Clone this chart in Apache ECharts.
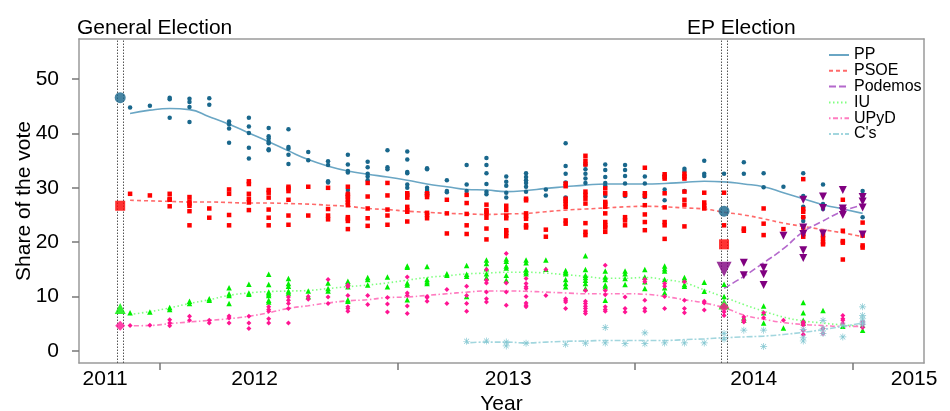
<!DOCTYPE html>
<html><head><meta charset="utf-8">
<script src="https://cdn.jsdelivr.net/npm/echarts@6/dist/echarts.min.js"></script>
<style>html,body{margin:0;padding:0;background:#fff}#c{width:950px;height:411px}</style>
</head><body><div id="c"></div>
<script>
// ---- data (monthly poll columns; position = array index) ----
const parties = ['PP', 'PSOE', 'Podemos', 'IU', 'UPyD', "C's"];

const ppPolls = [[44.8],[45.1],[46.6,46.3,42.9],[46.4,45.8,44.9,42.1],[46.5,45.3],[42.2,41.7,40.9,38.3],
  [42.9,41.3,40.1,37.4,35.4],[41.0,39.5,39.1,38.5,38.2,37.1,36.9],[40.8,37.5,37.2,36.1,34.4],[36.6,35.1],
  [34.9,34.2,31.2,31.0],[36.1,34.3,33.1,32.8,29.6],[34.8,33.8,32.6,32.1,31.4],[36.9,33.8,33.4],
  [36.7,35.2,32.9,32.7,30.6,30.0],[33.6,33.4,30.0,29.6,29.2,28.8],[31.4,29.4,29.2],[34.2,30.6,29.4],
  [35.5,34.2,32.7,30.7,29.3,28.8],[32.1,31.1,30.4,29.1,28.2],[32.7,32.0,31.4,30.9,30.2,29.3],[29.7,28.6],
  [38.2,34.0,32.6,31.0,28.2],[34.3,33.4,32.6,31.7,30.9],[34.3,33.3,32.0,30.9,30.4,28.5],[34.2,33.3,32.2,30.8,28.5],
  [32.1,30.8,28.3],[32.3,29.7,27.7],[33.5,33.1,29.4],[35.0,32.6,32.2],[32.6],[34.7,32.6],[32.7,30.1],[30.2],
  [32.7,28.5,26.5,24.6,23.9],[30.6,27.0,26.1],[26.0,25.3],[29.4,28.4,24.6]];

const psoePolls = [[28.9],[28.6],[28.9,28.0,27.8,26.6],[28.3,27.5,27.1,26.7,25.7,23.1],[26.2,24.5],
  [29.7,28.9,25.0,23.1],[31.2,30.7,28.9,28.0,27.3,25.9],[29.6,29.1,28.2,26.0,24.5,23.1],[30.2,29.9,29.4,27.8,24.9,23.2],
  [30.2,24.9],[30.0,26.1,24.9,24.2],[30.2,28.9,28.6,28.3,27.8,27.3,26.8,24.6,24.3,23.9,22.4],[30.9,28.4,26.2,24.4,23.0],
  [30.9,28.6,26.0,24.9,23.2],[29.0,28.7,28.2,26.5,25.9,25.6,23.8],[29.0,28.7,28.3,25.4,25.0,24.4],[27.8,25.3,21.6],
  [28.7,27.2,25.2,23.1,21.5],[26.9,25.9,25.6,25.2,24.5,22.5,20.5],[26.7,25.9,24.9,24.4,22.2,21.7,21.1],
  [28.0,27.7,25.3,24.8,24.3,23.1,22.7],[22.3,21.0],[30.8,30.3,28.0,27.6,27.1,26.5,24.0,23.4],
  [35.9,35.0,34.3,29.3,28.7,28.0,27.1,23.5,21.9,21.3],[29.9,29.0,27.4,27.1,26.5,25.3,23.7,23.1,22.7,21.9],
  [29.0,28.7,24.6,24.0,23.1],[33.7,29.0,28.5,26.8,25.1,23.7,22.2],[32.5,32.0,31.7,29.0,26.4,23.7,23.1,20.6],
  [32.6,32.1,31.7,29.3,27.8,26.9,22.9],[29.1,27.3,26.7,26.2],[29.1,23.1],[22.5,22.1],[26.2,23.4,21.3],[22.4],
  [31.6,26.1,25.6,24.6,22.7,21.5,21.0],[21.3,20.7,20.0,19.6],[27.8,22.1,20.2,19.9,16.8],[23.6,21.2,19.4,19.0]];

const podemosStart = 30;
const podemosPolls = [[],[16.2,13.9],[15.3,14.1,12.1],[21.2],[27.8,22.7,21.5,18.5,17.1],[28.4,26.3,21.6],
  [29.6,26.2,25.7,25.0],[28.3,27.5,26.4,21.4]];

const iuPolls = [[7.0],[7.15],[7.95,7.6],[9.1,8.7],[9.6,9.3],[11.6,10.5,10.2,8.7],[12.25,10.65,10.4],
  [14.1,12.2,10.8,10.5,10.2,9.3,9.0],[13.3,12.4,11.9,11.0,10.65],[11.0,10.0],[12.5,11.45,11.0],[12.8,12.5,11.8,9.4,9.1],
  [13.5,13.1,12.1],[13.6,11.8],[15.6,15.4,12.5,12.1,9.4],[15.5,13.1,12.7,12.4],[14.2,13.9],[15.7,14.1,13.7,10.0],
  [16.7,16.05,15.1,14.2,13.5],[16.9,16.5,15.6,15.25,13.9,13.0],[16.7,16.2,14.95,14.5,14.2],[16.7,15.0],
  [14.8,14.5,14.2,13.1,12.4,11.8],[17.5,14.95,13.9,13.5,13.0,12.4,11.45],[14.7,13.6,13.1,12.1,11.8,9.3],
  [14.7,14.2,13.3,12.2],[14.95,13.6,12.7,11.45],[15.6,15.1,14.7,13.1,11.6,10.7],[13.5,13.1,12.2,11.9],[12.6,10.95],
  [12.25,10.0],[6.1,5.6],[8.25,7.0,5.1],[4.2],[8.9,7.0,5.6,5.1],[7.4],[4.5],[4.7,3.8]];

const upydPolls = [[4.65],[4.7],[5.7,5.1,4.6],[6.35,5.6],[5.6,5.1],[6.4,6.05,5.1],[6.35,5.1,4.1],
  [8.1,7.6,7.3,5.9,5.1],[9.9,9.3,8.7,7.8,5.1],[10.0,9.5],[13.1,9.9,8.7],[12.1,11.8,10.2,8.1,7.8,7.3],[10.2,8.5],
  [9.8,8.6,7.15],[13.6,10.65,10.2,8.25,6.85],[10.0,9.8,9.1],[11.3,8.7],[11.9,10.2,8.7,7.3],[14.95,13.0,12.5,10.8,9.6,9.0],
  [17.9,12.5,10.8,8.4],[13.3,12.4,11.8,11.45,10.0,8.8,8.4,8.1],[14.95,10.2],[9.6,9.3,9.0,7.8],
  [11.1,9.1,8.7,8.2,7.8,7.3,6.85],[15.75,11.1,10.3,8.1,7.6,7.3],[9.9,7.8,7.15],[13.1,12.7,9.3,7.8,7.3],
  [12.4,11.9,10.0,7.8],[12.7,9.3,7.8,7.0],[9.1,8.8,7.5],[8.1,7.15,6.5],[6.2,5.6,5.3],[7.0,6.1],[5.6],
  [5.3,5.0,4.7,3.8,3.0],[4.1,3.2],[6.5,5.9,5.6,5.0],[5.3,4.9,4.3]];

const csStart = 17;
const csPolls = [[1.75],[1.8],[1.6,0.9],[1.4],[],[1.2],[1.4],[4.3,1.45],[1.3],[3.3,1.3],[1.45],[1.45],[1.45],
  [3.2,2.1],[3.8],[3.8,0.8],[],[3.9,2.4,1.8],[5.6,4.1,3.2],[4.7,2.55],[8.1,6.5,5.9,5.3,4.9]];

// smoothed trend lines
const ppTrend = [43.7,44.3,44.6,44.4,43.1,41.7,40.1,38.5,36.8,35.2,34.0,33.1,32.5,32.0,31.4,30.7,30.2,29.7,29.6,29.3,
  29.5,29.9,30.2,30.5,30.7,30.7,30.7,30.8,31.0,31.2,31.1,30.7,30.2,29.1,28.0,26.9,26.1,25.3];
const psoeTrend = [27.7,27.6,27.5,27.4,27.4,27.3,27.2,27.2,27.1,27.0,26.8,26.6,26.2,26.0,25.7,25.5,25.3,25.2,25.1,25.2,
  25.3,25.6,25.9,26.1,26.3,26.5,26.6,26.5,26.3,26.1,25.5,25.0,24.3,23.5,22.9,22.3,21.7,21.0];
const podemosTrend = [11.5,13.7,16.2,18.8,21.9,23.9,25.7,26.8];
const iuTrend = [6.7,7.2,7.9,8.7,9.4,10.2,10.65,10.9,11.0,11.1,11.45,11.8,12.1,12.5,13.0,13.5,13.8,14.15,14.3,14.45,
  14.45,14.3,14.0,13.7,13.35,13.35,13.5,13.1,12.5,11.2,9.9,8.5,7.3,6.2,5.5,5.1,4.75,4.5];
const upydTrend = [4.6,4.65,5.0,5.3,5.6,5.9,6.35,7.0,7.8,8.3,8.8,9.2,9.4,9.8,9.9,10.2,10.5,10.8,11.0,11.0,
  10.95,10.8,10.65,10.5,10.5,10.5,10.4,10.0,9.4,8.8,7.9,6.6,5.8,5.2,4.85,4.65,4.5,4.5];
const csTrend = [1.45,1.6,1.6,1.45,1.6,1.75,1.8,1.9,1.9,1.9,1.9,2.05,2.2,2.4,2.55,2.7,3.0,3.4,3.9,4.5,5.1];

// election results (order = parties)
const geDate = -0.5, epDate = 30;
const geResult = [46.6, 26.7, null, 7.8, 4.6, null];
const epResult = [25.7, 19.6, 15.0, 8.6, 8.0, null];

// axis ticks / labels
const yTicks = [0, 10, 20, 30, 40, 50];
const xTickPos = [1.5, 13.5, 25.5, 36.5];
const xLabelPos = [-1.26, 6.29, 19.1, 31.5, 39.6];
const xLabelText = ['2011', '2012', '2013', '2014', '2015'];

// ---- styling ----
const FONT = 'Liberation Sans';
const pointColor = ['#19678c', '#ff0000', '#800080', '#00ee00', '#ff1493', '#86c8d2'];
const lineColor = ['#6aa6c4', '#ff6a6a', '#b468cc', '#80ff80', '#ff7cc0', '#a2d6de'];
const lineDash = ['solid', [4, 3], [7, 3], [1.5, 2.5], [1.5, 2.5, 5, 2.5], [2, 2, 6, 2]];
const asterisk = 'path://M4.5,0h1v10h-1z M0,4.5h10v1h-10z M1.2,1.9l0.7,-0.7l7,7l-0.7,0.7z M8.1,1.2l0.7,0.7l-7,7l-0.7,-0.7z';
const pointSymbol = ['circle', 'rect', 'triangle', 'triangle', 'diamond', asterisk];
const pointRotate = [0, 0, 180, 0, 0, 0];
const pointSize = [4.5, 4.5, 8, 5.5, 5, 7];
const bigSize = [11, 10, 15, 11, 10, 10];

const polls = [ppPolls, psoePolls, podemosPolls, iuPolls, upydPolls, csPolls];
const pollStart = [0, 0, podemosStart, 0, 0, csStart];
const trends = [ppTrend, psoeTrend, podemosTrend, iuTrend, upydTrend, csTrend];

const series = [];
parties.forEach((p, k) => {
  series.push({
    name: p, type: 'line', smooth: true, symbol: 'none', silent: true, z: 3,
    data: trends[k].map((v, i) => [pollStart[k] + i, v]),
    lineStyle: { color: lineColor[k], width: 1.6, type: lineDash[k] },
    itemStyle: { color: lineColor[k] }
  });
});
parties.forEach((p, k) => {
  const pts = [];
  polls[k].forEach((col, i) => col.forEach(v => pts.push([pollStart[k] + i, v])));
  series.push({
    name: p + ' polls', type: 'scatter', data: pts, z: 4, silent: true,
    symbol: pointSymbol[k], symbolRotate: pointRotate[k], symbolSize: pointSize[k],
    itemStyle: { color: pointColor[k], opacity: 1 }
  });
  const res = [];
  if (geResult[k] != null) res.push([geDate, geResult[k]]);
  if (epResult[k] != null) res.push([epDate, epResult[k]]);
  series.push({
    name: p + ' result', type: 'scatter', data: res, z: 5, silent: true,
    symbol: pointSymbol[k], symbolRotate: pointRotate[k], symbolSize: bigSize[k],
    itemStyle: { color: pointColor[k] }
  });
});
series.push({
  name: 'elections', type: 'line', data: [], silent: true,
  markLine: {
    silent: true, symbol: 'none', animation: false,
    label: { show: false },
    lineStyle: { color: '#555', type: [1.5, 1.5], width: 1 },
    data: [geDate - 0.15, geDate + 0.15, epDate - 0.15, epDate + 0.15].map(x => ({ xAxis: x }))
  }
});

const frameLine = { show: true, onZero: false, lineStyle: { color: '#9a9a9a', width: 1.5 } };
const XMIN = -2.58, XMAX = 40.1, YMIN = -2.25, YMAX = 57.4;

const chart = echarts.init(document.getElementById('c'), null, { renderer: 'canvas' });
chart.setOption({
  animation: false,
  backgroundColor: '#fff',
  textStyle: { fontFamily: FONT },
  title: [
    { text: 'General Election', left: 72, top: 13, textStyle: { fontFamily: FONT, fontSize: 21, fontWeight: 'normal', color: '#000' } },
    { text: 'EP Election', left: 682, top: 13, textStyle: { fontFamily: FONT, fontSize: 21, fontWeight: 'normal', color: '#000' } }
  ],
  legend: {
    data: parties, orient: 'vertical', left: 828, top: 47, padding: 0,
    itemWidth: 20, itemHeight: 14, itemGap: -0.2,
    selectedMode: false,
    itemStyle: { opacity: 0 },
    textStyle: { fontFamily: FONT, fontSize: 16, color: '#000', lineHeight: 14 }
  },
  grid: { left: 79, right: 26, top: 39, bottom: 48, containLabel: false, outerBoundsMode: 'none' },
  xAxis: [{
    type: 'value', min: XMIN, max: XMAX, position: 'bottom',
    name: 'Year', nameLocation: 'middle', nameGap: 31, nameMoveOverlap: false,
    nameTextStyle: { fontFamily: FONT, fontSize: 21, color: '#000' },
    axisLine: frameLine,
    splitLine: { show: false },
    axisTick: { show: true, customValues: xTickPos, length: 7, lineStyle: { color: '#777', width: 1.5 } },
    axisLabel: {
      customValues: xLabelPos, margin: 6, fontFamily: FONT, fontSize: 21, color: '#000',
      formatter: v => {
        let best = 0;
        xLabelPos.forEach((p, i) => { if (Math.abs(p - v) < Math.abs(xLabelPos[best] - v)) best = i; });
        return xLabelText[best];
      }
    }
  }, {
    type: 'value', min: XMIN, max: XMAX, position: 'top',
    axisLine: frameLine, axisTick: { show: false }, axisLabel: { show: false }, splitLine: { show: false }
  }],
  yAxis: [{
    type: 'value', min: YMIN, max: YMAX, position: 'left',
    name: 'Share of the vote', nameLocation: 'middle', nameGap: 44, nameMoveOverlap: false,
    nameTextStyle: { fontFamily: FONT, fontSize: 21, color: '#000' },
    axisLine: frameLine,
    splitLine: { show: false },
    axisTick: { show: true, customValues: yTicks, length: 7, lineStyle: { color: '#777', width: 1.5 } },
    axisLabel: { customValues: yTicks, margin: 20, fontFamily: FONT, fontSize: 21, color: '#000' }
  }, {
    type: 'value', min: YMIN, max: YMAX, position: 'right',
    axisLine: frameLine, axisTick: { show: false }, axisLabel: { show: false }, splitLine: { show: false }
  }],
  series
});
</script>
</body></html>
